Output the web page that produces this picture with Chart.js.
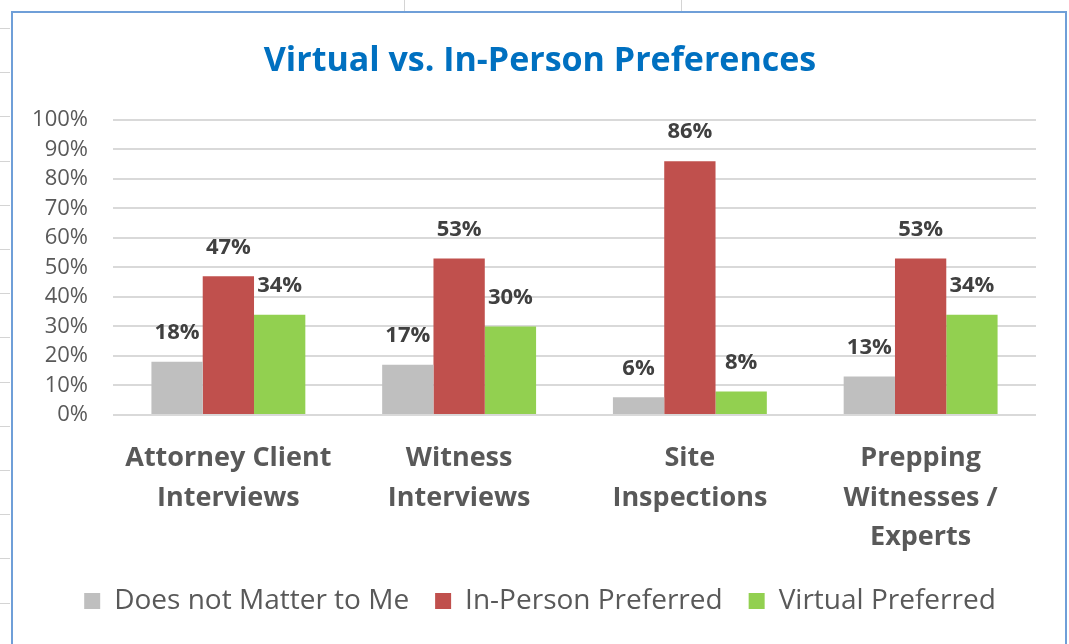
<!DOCTYPE html>
<html>
<head>
<meta charset="utf-8">
<script src="https://cdn.jsdelivr.net/npm/chart.js@4.4.1/dist/chart.umd.min.js"></script>
<style>
  html, body { margin: 0; padding: 0; background: #ffffff; overflow: hidden; }
  #wrap { position: relative; width: 1069px; height: 644px; }
  #c { position: absolute; left: 0; top: 0; }
  #frame { position: absolute; left: 11px; top: 11px; width: 1052px; height: 660px;
           border: 2px solid #6f9fd8; pointer-events: none; }
  .colline { position: absolute; top: 0; width: 1px; height: 11px; background: #d4d4d4; }
  .rowtick { position: absolute; left: 0; width: 10px; height: 1px; background: #d4d4d4; }
</style>
</head>
<body>
<div id="wrap">
  <canvas id="c" width="1069" height="644"></canvas>
  <div id="frame"></div>
</div>
<script>
// ---- data ----
const categories = [
  ["Attorney Client", "Interviews"],
  ["Witness", "Interviews"],
  ["Site", "Inspections"],
  ["Prepping", "Witnesses /", "Experts"]
];
const seriesNames = ["Does not Matter to Me", "In-Person Preferred", "Virtual Preferred"];
const doesNotMatter = [18, 17, 6, 13];
const inPersonPreferred = [47, 53, 86, 53];
const virtualPreferred = [34, 30, 8, 34];
const yTickValues = [0, 10, 20, 30, 40, 50, 60, 70, 80, 90, 100];
const chartTitle = "Virtual vs. In-Person Preferences";

// ---- styling ----
const FONT = '"Open Sans", "Liberation Sans", sans-serif';
const seriesColors = ["#BFBFBF", "#C0504D", "#92D050"];

// decorative spreadsheet edges outside the chart frame
(function () {
  const wrap = document.getElementById('wrap');
  [404, 681].forEach(function (x) {
    const d = document.createElement('div'); d.className = 'colline'; d.style.left = x + 'px'; wrap.appendChild(d);
  });
  for (let k = 0; k < 14; k++) {
    const d = document.createElement('div'); d.className = 'rowtick'; d.style.top = Math.round(28 + 44.2 * k) + 'px'; wrap.appendChild(d);
  }
})();

const valueLabels = {
  id: 'valueLabels',
  afterDatasetsDraw(chart) {
    const ctx = chart.ctx;
    ctx.save();
    ctx.font = 'bold 22px ' + FONT;
    ctx.fillStyle = '#404040';
    ctx.textAlign = 'center';
    ctx.textBaseline = 'middle';
    chart.data.datasets.forEach(function (ds, i) {
      chart.getDatasetMeta(i).data.forEach(function (el, j) {
        ctx.fillText(ds.data[j] + '%', el.x, el.y - 29);
      });
    });
    ctx.restore();
  }
};

function build() {
  const seriesValues = [doesNotMatter, inPersonPreferred, virtualPreferred];
  new Chart(document.getElementById('c'), {
    type: 'bar',
    data: {
      labels: categories,
      datasets: seriesNames.map(function (name, i) {
        return {
          label: name,
          data: seriesValues[i],
          backgroundColor: seriesColors[i],
          borderWidth: 0,
          categoryPercentage: 0.667,
          barPercentage: 1.0,
          yAxisID: 'y'
        };
      })
    },
    options: {
      responsive: false,
      animation: false,
      events: [],
      layout: { padding: { left: 11, right: 0, top: 0, bottom: 19 } },
      plugins: {
        tooltip: { enabled: false },
        title: {
          display: true,
          text: chartTitle,
          color: '#0070C0',
          font: { family: FONT, size: 34, weight: 'bold', lineHeight: 1.2 },
          padding: { top: 41, bottom: 38 }
        },
        legend: {
          position: 'bottom',
          labels: {
            color: '#595959',
            font: { family: FONT, size: 28 },
            boxWidth: 16,
            boxHeight: 16,
            padding: 26
          }
        }
      },
      scales: {
        x: {
          grid: { display: false, drawTicks: false },
          border: { display: false },
          ticks: {
            color: '#595959',
            font: { family: FONT, size: 27, weight: 'bold', lineHeight: 1.46 },
            padding: 24,
            maxRotation: 0,
            autoSkip: false
          },
          afterFit(s) { s.height = 146; }
        },
        y: {
          position: 'left',
          min: 0,
          max: 100,
          afterBuildTicks(s) { s.ticks = yTickValues.map(function (v) { return { value: v }; }); },
          grid: { color: '#D9D9D9', lineWidth: 2, drawTicks: false },
          border: { display: false },
          ticks: {
            color: '#595959',
            font: { family: FONT, size: 22 },
            padding: 25,
            autoSkip: false,
            callback: function (v) { return v + '%'; }
          },
          afterFit(s) { s.width = 102; }
        },
        yRightSpace: {
          position: 'right',
          display: true,
          grid: { display: false, drawTicks: false },
          border: { display: false },
          ticks: { display: false },
          afterFit(s) { s.width = 33; }
        }
      }
    },
    plugins: [valueLabels]
  });
}

if (document.fonts && document.fonts.load) {
  Promise.all([
    document.fonts.load('22px "Open Sans"'),
    document.fonts.load('bold 22px "Open Sans"')
  ]).then(build, build);
} else {
  build();
}
</script>
</body>
</html>
